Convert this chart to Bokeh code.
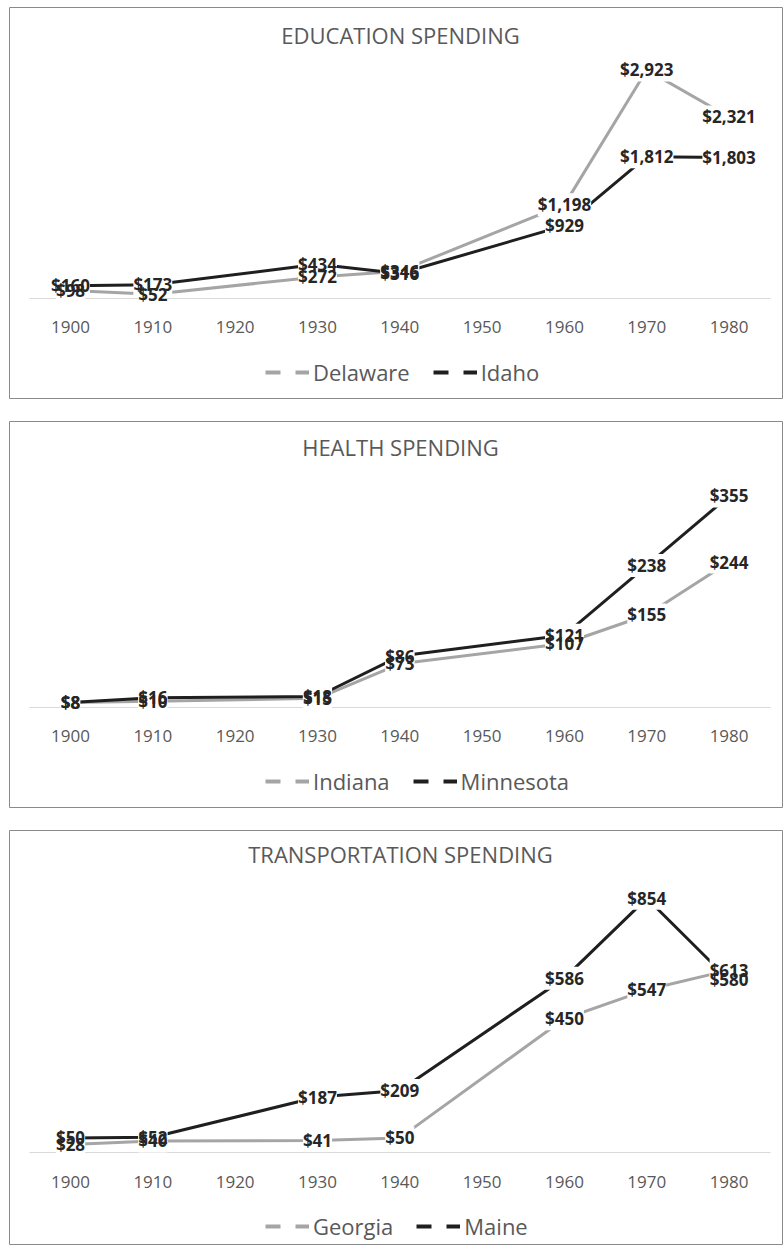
from bokeh.plotting import figure
from bokeh.models import (Range1d, LinearAxis, FixedTicker, ColumnDataSource,
                          LabelSet, Label, Legend, LegendItem, Spacer)
from bokeh.layouts import column, row
from bokeh.core.properties import value
from bokeh.embed import file_html
from bokeh.resources import INLINE

# ---------------- data ----------------
years = [1900, 1910, 1920, 1930, 1940, 1950, 1960, 1970, 1980]

edu_title = "EDUCATION SPENDING"
edu_names = ["Delaware", "Idaho"]
edu_delaware = [98, 52, None, 272, 346, None, 1198, 2923, 2321]
edu_idaho = [160, 173, None, 434, 316, None, 929, 1812, 1803]

health_title = "HEALTH SPENDING"
health_names = ["Indiana", "Minnesota"]
health_indiana = [8, 10, None, 15, 73, None, 107, 155, 244]
health_minnesota = [8, 16, None, 18, 86, None, 121, 238, 355]

trans_title = "TRANSPORTATION SPENDING"
trans_names = ["Georgia", "Maine"]
trans_georgia = [28, 40, None, 41, 50, None, 450, 547, 613]
trans_maine = [50, 52, None, 187, 209, None, 586, 854, 580]

# ---------------- style ----------------
FONT = "Open Sans"
GRAY = "#a5a5a5"
DARK = "#1f1f1f"
TEXT = "#595959"
W = 774
NAN = float("nan")


def make_panel(title, names, s1, s2, height, y_start, y_end, title_y, legend_y):
    p = figure(width=W, height=height, x_range=Range1d(1892.59, 1986.61),
               y_range=Range1d(y_start, y_end), x_axis_type=None, y_axis_type=None,
               toolbar_location=None, output_backend="svg", min_border=0,
               outline_line_color="#8a8a8a", outline_line_width=1,
               background_fill_color="white", border_fill_color="white")

    ax = LinearAxis(fixed_location=0, ticker=FixedTicker(ticks=years),
                    bounds=(1895, 1985))
    ax.major_label_overrides = {y: str(y) for y in years}
    ax.axis_line_color = "#d9d9d9"
    ax.axis_line_width = 1
    ax.major_tick_line_color = None
    ax.minor_tick_line_color = None
    ax.major_tick_out = 0
    ax.major_label_standoff = 23
    ax.major_label_text_font = FONT
    ax.major_label_text_font_size = "17px"
    ax.major_label_text_color = TEXT
    p.add_layout(ax, "below")

    sources = []
    for vals, color in ((s1, GRAY), (s2, DARK)):
        xs = [y for y, v in zip(years, vals) if v is not None]
        ys = [v for v in vals if v is not None]
        labels = ["$" + f"{v:,}" for v in ys]
        src = ColumnDataSource(dict(x=xs, y=ys, label=labels))
        p.line("x", "y", source=src, line_color=color, line_width=3)
        sources.append(src)

    # white label boxes first, then texts
    for src in sources:
        p.add_layout(LabelSet(x="x", y="y", text="label", source=src,
                              text_align="center", text_baseline="middle",
                              text_font=value(FONT), text_font_size=value("17px"),
                              text_font_style=value("bold"), text_alpha=0,
                              background_fill_color="white"))
    for src in sources:
        p.add_layout(LabelSet(x="x", y="y", text="label", source=src,
                              text_align="center", text_baseline="middle",
                              text_font=value(FONT), text_font_size=value("17px"),
                              text_font_style=value("bold"), text_color="#262626"))

    p.add_layout(Label(x=391, y=title_y, x_units="screen", y_units="screen",
                       text=title, text_align="center", text_baseline="middle",
                       text_font=FONT, text_font_size="22px", text_color=TEXT))

    d1 = p.line([NAN], [NAN], line_color=GRAY, line_width=4, line_dash="15 15")
    d2 = p.line([NAN], [NAN], line_color=DARK, line_width=4, line_dash="15 15")
    leg = Legend(items=[LegendItem(label=names[0], renderers=[d1]),
                        LegendItem(label=names[1], renderers=[d2])],
                 orientation="horizontal", location=(256, legend_y),
                 glyph_width=44, glyph_height=26, label_standoff=4, spacing=23,
                 padding=0, margin=0, border_line_color=None,
                 background_fill_alpha=0, label_text_font=FONT,
                 label_text_font_size="22px", label_text_color=TEXT)
    p.add_layout(leg, "center")
    return p


p1 = make_panel(edu_title, edu_names, edu_delaware, edu_idaho, 392,
                -101.3 / 0.0781, (392 - 101.3) / 0.0781, 364.3, 12)
p2 = make_panel(health_title, health_names, health_indiana, health_minnesota, 387,
                -101.3 / 0.595, (387 - 101.3) / 0.595, 361.3, 12)
p3 = make_panel(trans_title, trans_names, trans_georgia, trans_maine, 415,
                -92.7 / 0.298, (415 - 92.7) / 0.298, 391.7, 4)

layout = row(Spacer(width=9),
             column(Spacer(height=7), p1, Spacer(height=22), p2,
                    Spacer(height=22), p3, spacing=0),
             spacing=0)
open("out.html", "w").write(file_html(layout, INLINE))
